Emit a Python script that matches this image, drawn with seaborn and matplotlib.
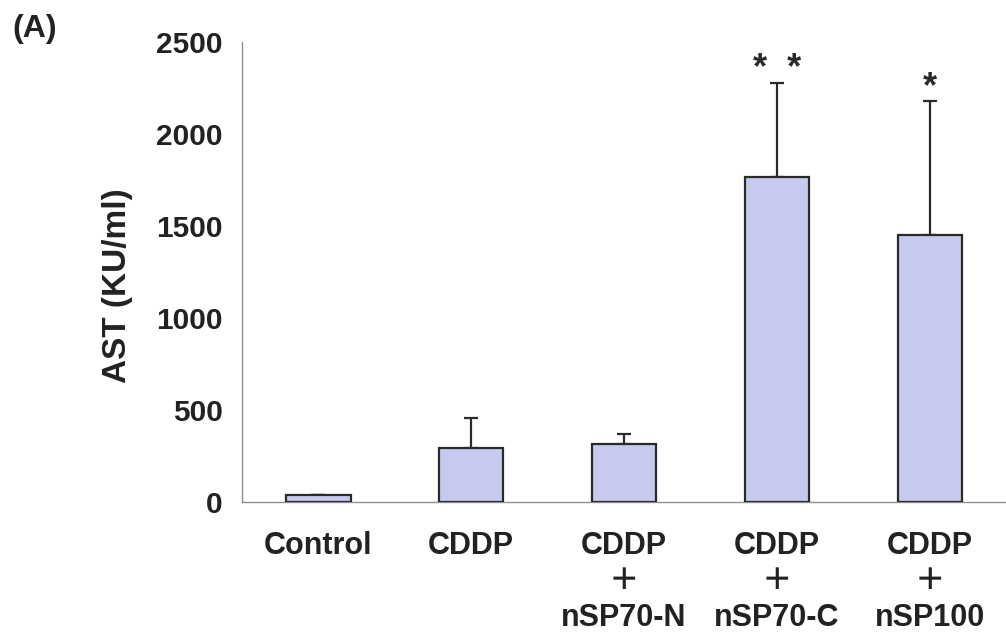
import numpy as np
import pandas as pd
import matplotlib
matplotlib.use("Agg")
import matplotlib.pyplot as plt
import seaborn as sns

# values (AST, KU/ml)
groups = ["Control", "CDDP", "CDDP\n＋\nnSP70-N", "CDDP\n＋\nnSP70-C", "CDDP\n＋\nnSP100"]
ast_mean = [40, 295, 317, 1768, 1451]
ast_sd = [0, 163, 54, 508, 728]
marks = ["", "", "", "*  *", "*"]
y_ticks = [0, 500, 1000, 1500, 2000, 2500]

sns.set_theme(style="white")
plt.rcParams["font.family"] = ["Liberation Sans", "Noto Sans CJK JP", "DejaVu Sans"]
plt.rcParams["font.weight"] = "bold"

df = pd.DataFrame({"group": groups, "ast": ast_mean})

fig = plt.figure(figsize=(10.06, 6.43), dpi=100)
ax = fig.add_axes([0.2406, 0.2193, 0.7594, 0.7154])

bar_fill = "#c6caee"
edge = "#2a2a2a"
axis_grey = "#8f8f8f"

sns.barplot(data=df, x="group", y="ast", color=bar_fill, edgecolor=edge,
            linewidth=1.6, width=0.42, errorbar=None, saturation=1, ax=ax, zorder=3)

x = np.arange(len(groups))
ax.errorbar(x, ast_mean, yerr=[np.zeros(len(x)), ast_sd], fmt="none",
            ecolor=edge, elinewidth=1.6, capsize=4.7, capthick=1.6, zorder=2)

for i, m in enumerate(marks):
    if m:
        ax.annotate(m, xy=(i, ast_mean[i] + ast_sd[i]), xytext=(0, 3),
                    textcoords="offset points", ha="center", va="baseline",
                    fontsize=26, fontweight="bold", color="#2a2a2a")

ax.set_xlim(-0.5, 4.5)
ax.set_ylim(0, 2500)
ax.set_yticks(y_ticks)
ax.set_yticklabels([str(t) for t in y_ticks])

for s in ["top", "right"]:
    ax.spines[s].set_visible(False)
for s in ["left", "bottom"]:
    ax.spines[s].set_color(axis_grey)
    ax.spines[s].set_linewidth(1.0)

ax.tick_params(axis="y", direction="in", length=6.5, width=0.8, color=axis_grey,
               pad=14, labelsize=21.5, labelcolor="#222222")
ax.tick_params(axis="x", which="major", length=0, pad=21, labelsize=22, labelcolor="#222222")
ax.set_xticks(np.arange(0.5, 4.0, 1.0), minor=True)
ax.tick_params(axis="x", which="minor", direction="out", length=6.5, width=0.8, color=axis_grey)
for lab in ax.get_xticklabels():
    lab.set_linespacing(1.25)
    lab.set_fontweight("bold")
for lab in ax.get_yticklabels():
    lab.set_fontweight("bold")

ax.set_xlabel("")
ax.set_ylabel("AST (KU/ml)", fontsize=24, fontweight="bold", color="#222222")
ax.yaxis.set_label_coords(-0.143, 0.47)

fig.text(0.012, 0.978, "(A)", fontsize=23, fontweight="bold", color="#222222", va="top", ha="left")

fig.savefig("out.png", dpi=100)
